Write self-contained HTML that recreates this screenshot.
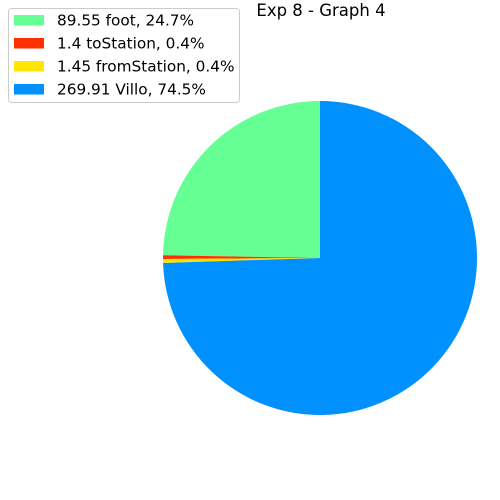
<!DOCTYPE html>
<html><head><meta charset="utf-8"><style>
body{margin:0;background:#fff;}
svg{display:block;font-family:"DejaVu Sans","Liberation Sans",sans-serif;}
</style></head><body>
<svg id="chart" width="500" height="500">
<text x="321" y="16" text-anchor="middle" font-size="16.5">Exp 8 - Graph 4</text>
<g id="slices"></g>
<g id="legend">
<rect x="8.5" y="8.5" width="231" height="94" rx="3" fill="#fff" stroke="#ccc"/>
</g>
</svg>
<script>
const labels = ["foot","toStation","fromStation","Villo"];
const values = [89.55,1.4,1.45,269.91];
const colors = ["#66ff93","#ff3000","#ffe500","#0091ff"];
const cx=320, cy=258, r=157;
const ns="http://www.w3.org/2000/svg";
const total=values.reduce((a,b)=>a+b,0);
let ang=90;
const g=document.getElementById('slices');
values.forEach((v,i)=>{
  const sweep=v/total*360;
  const a0=ang*Math.PI/180, a1=(ang+sweep)*Math.PI/180;
  const x0=cx+r*Math.cos(a0), y0=cy-r*Math.sin(a0);
  const x1=cx+r*Math.cos(a1), y1=cy-r*Math.sin(a1);
  const large=sweep>180?1:0;
  const p=document.createElementNS(ns,'path');
  p.setAttribute('d',`M${cx},${cy} L${x0},${y0} A${r},${r} 0 ${large} 0 ${x1},${y1} Z`);
  p.setAttribute('fill',colors[i]);
  
  
  g.appendChild(p);
  ang+=sweep;
});
const lg=document.getElementById('legend');
values.forEach((v,i)=>{
  const y=20+i*23;
  const rc=document.createElementNS(ns,'rect');
  rc.setAttribute('x',14);rc.setAttribute('y',y-5);rc.setAttribute('width',30);rc.setAttribute('height',10.5);
  rc.setAttribute('fill',colors[i]);
  
  
  lg.appendChild(rc);
  const t=document.createElementNS(ns,'text');
  t.setAttribute('x',57);t.setAttribute('y',y+5.5);t.setAttribute('font-size','15.3');
  t.textContent=`${v} ${labels[i]}, ${(v/total*100).toFixed(1)}%`;
  
  
  lg.appendChild(t);
});
</script>
</body></html>
